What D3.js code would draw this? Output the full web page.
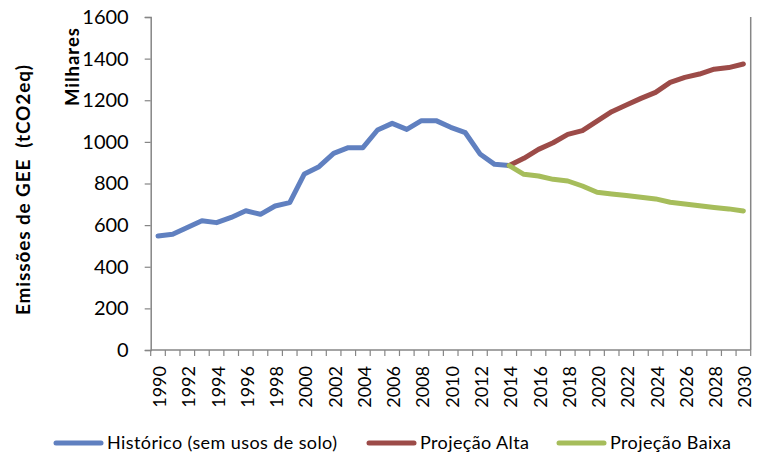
<!DOCTYPE html>
<html>
<head>
<meta charset="utf-8">
<script src="https://cdn.jsdelivr.net/npm/d3@7"></script>
<style>
  html, body { margin: 0; padding: 0; background: #fff; }
  svg { display: block; font-family: Lato, "Open Sans", sans-serif; }
</style>
</head>
<body>
<svg id="chart" width="757" height="453"></svg>
<script>
// Emissões de GEE (milhares de tCO2eq): histórico e projeções até 2030
const years = d3.range(1990, 2031);
const histYears = d3.range(1990, 2015);
const projYears = d3.range(2014, 2031);

const historico = [548, 556, 589, 621, 612, 637, 669, 652, 692, 708,
                   846, 881, 945, 972, 972, 1057, 1089, 1060, 1102, 1102,
                   1070, 1044, 942, 892, 886];
const projAlta  = [886, 921, 964, 996, 1036, 1054, 1100, 1145, 1177, 1209,
                   1238, 1286, 1310, 1326, 1349, 1357, 1374];
const projBaixa = [886, 844, 836, 820, 812, 788, 758, 750, 742, 734,
                   726, 710, 702, 693, 685, 678, 668];

const yTicks = [0, 200, 400, 600, 800, 1000, 1200, 1400, 1600];
const xLabelYears = years.filter(y => y % 2 === 0);

const series = [
  { name: "Histórico (sem usos de solo)", years: histYears, values: historico, color: "#6080c0" },
  { name: "Projeção Alta", years: projYears, values: projAlta, color: "#9c4b48" },
  { name: "Projeção Baixa", years: projYears, values: projBaixa, color: "#a6bd5b" }
];

const svg = d3.select("#chart");
const plotLeft = 150.7, plotRight = 750.7, plotTop = 17, plotBottom = 350;

const x = d3.scalePoint().domain(years).range([plotLeft, plotRight]).padding(0.5);
const y = d3.scaleLinear().domain([0, 1600]).range([plotBottom, plotTop]);
const step = x.step();
const axisColor = "#868686";

// Y axis
const yAxis = svg.append("g")
  .attr("transform", `translate(${plotLeft},0)`)
  .call(d3.axisLeft(y).tickValues(yTicks).tickSize(6).tickPadding(16).tickFormat(d3.format("d")));
yAxis.select(".domain").attr("stroke", axisColor).attr("stroke-width", 1.5);
yAxis.selectAll(".tick line").attr("stroke", axisColor).attr("stroke-width", 1.2);
yAxis.selectAll(".tick text").attr("fill", "#000").style("font-size", "20px")
  .style("font-family", "Lato, sans-serif");

// X axis: line plus ticks at category boundaries
const boundaries = d3.range(years.length + 1).map(i => plotLeft + i * step);
svg.append("line")
  .attr("x1", plotLeft).attr("x2", plotRight).attr("y1", plotBottom).attr("y2", plotBottom)
  .attr("stroke", axisColor).attr("stroke-width", 1.5);
svg.append("g").selectAll("line").data(boundaries).join("line")
  .attr("x1", d => d).attr("x2", d => d)
  .attr("y1", plotBottom).attr("y2", plotBottom + 6)
  .attr("stroke", axisColor).attr("stroke-width", 1.2);

// Right border of plot
svg.append("line")
  .attr("x1", plotRight).attr("x2", plotRight).attr("y1", plotTop).attr("y2", plotBottom)
  .attr("stroke", axisColor).attr("stroke-width", 1.5);

// X labels, rotated
svg.append("g").selectAll("text").data(xLabelYears).join("text")
  .attr("transform", d => `translate(${x(d) + 8},${plotBottom + 16}) rotate(-90)`)
  .attr("text-anchor", "end")
  .style("font-size", "18px")
  .attr("fill", "#000")
  .text(d => d);

// Lines
const line = d3.line().x(d => x(d[0])).y(d => y(d[1]));
series.forEach(s => {
  svg.append("path")
    .datum(s.years.map((yr, i) => [yr, s.values[i]]))
    .attr("d", line)
    .attr("fill", "none")
    .attr("stroke", s.color)
    .attr("stroke-width", 5)
    .attr("stroke-linejoin", "round")
    .attr("stroke-linecap", "round");
});

// Axis titles
svg.append("text")
  .attr("transform", "translate(30,190) rotate(-90)")
  .attr("text-anchor", "middle")
  .style("font-size", "19px").style("font-weight", "bold")
  .style("white-space", "pre")
  .attr("textLength", 250).attr("lengthAdjust", "spacing")
  .text("Emissões de GEE  (tCO2eq)");
svg.append("text")
  .attr("transform", "translate(79,67) rotate(-90)")
  .attr("text-anchor", "middle")
  .style("font-size", "18.5px").style("font-weight", "bold")
  .attr("textLength", 78).attr("lengthAdjust", "spacing")
  .text("Milhares");

// Legend
const legendItems = [
  { s: series[0], lx: 56, tx: 107, w: 230 },
  { s: series[1], lx: 369, tx: 420, w: 109 },
  { s: series[2], lx: 559, tx: 610, w: 121 }
];
const ly = 443;
const lg = svg.append("g");
legendItems.forEach(it => {
  lg.append("line")
    .attr("x1", it.lx).attr("x2", it.lx + 45).attr("y1", ly).attr("y2", ly)
    .attr("stroke", it.s.color).attr("stroke-width", 5).attr("stroke-linecap", "round");
  lg.append("text")
    .attr("x", it.tx).attr("y", ly + 6)
    .style("font-size", "18px")
    .attr("textLength", it.w).attr("lengthAdjust", "spacing")
    .attr("fill", "#000")
    .text(it.s.name);
});
</script>
</body>
</html>
